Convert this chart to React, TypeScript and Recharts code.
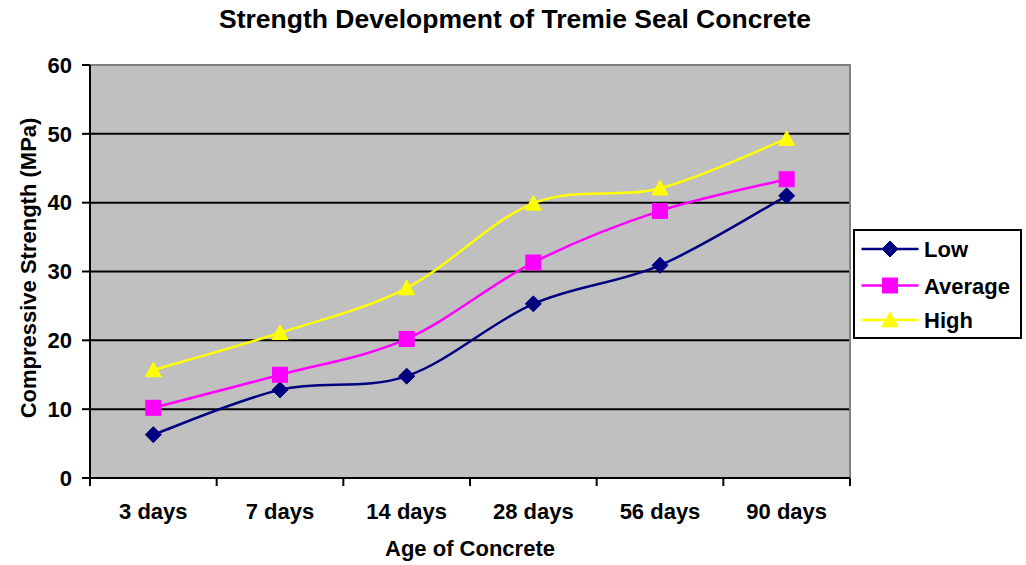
import React from 'react';
import { LineChart, Line, XAxis, YAxis, CartesianGrid, Legend } from 'recharts';

const categories = ['3 days', '7 days', '14 days', '28 days', '56 days', '90 days'];
const lowValues = [6.3, 12.8, 14.8, 25.3, 30.9, 41.0];
const averageValues = [10.2, 15.0, 20.2, 31.3, 38.8, 43.4];
const highValues = [15.7, 21.1, 27.6, 39.9, 42.1, 49.3];
const yTicks = [0, 10, 20, 30, 40, 50, 60];
const gridValues = [10, 20, 30, 40, 50];

const seriesList = [
  { key: 'low', name: 'Low', color: '#000080', shape: 'diamond' },
  { key: 'average', name: 'Average', color: '#FF00FF', shape: 'square' },
  { key: 'high', name: 'High', color: '#FFFF00', shape: 'triangle' },
];

const data = categories.map((age, i) => ({
  age,
  low: lowValues[i],
  average: averageValues[i],
  high: highValues[i],
}));

const W = 1026;
const H = 565;
const M = { top: 65, right: 176, bottom: 0, left: 0 };
const Y_AXIS_W = 90;
const X_AXIS_H = 87;
const PLOT_X = M.left + Y_AXIS_W;
const PLOT_W = W - M.right - PLOT_X;
const PLOT_Y = M.top;
const PLOT_H = H - M.top - M.bottom - X_AXIS_H;
const BW = PLOT_W / categories.length;
const FONT = '"Liberation Sans", Arial, sans-serif';
const FS = 22;

function excelSmooth(context: any) {
  let pts: [number, number][] = [];
  return {
    areaStart() {},
    areaEnd() {},
    lineStart() {
      pts = [];
    },
    lineEnd() {
      const n = pts.length;
      if (n === 0) return;
      context.moveTo(pts[0][0], pts[0][1]);
      for (let i = 0; i < n - 1; i++) {
        const p0 = pts[i - 1] || pts[i];
        const p1 = pts[i];
        const p2 = pts[i + 1];
        const p3 = pts[i + 2] || pts[i + 1];
        context.bezierCurveTo(
          p1[0] + (p2[0] - p0[0]) / 6,
          p1[1] + (p2[1] - p0[1]) / 6,
          p2[0] - (p3[0] - p1[0]) / 6,
          p2[1] - (p3[1] - p1[1]) / 6,
          p2[0],
          p2[1]
        );
      }
    },
    point(x: number, y: number) {
      pts.push([+x, +y]);
    },
  };
}

function Marker({ shape, cx, cy, color }: any) {
  if (cx == null || cy == null) return null;
  if (shape === 'diamond') {
    const r = 8;
    return <polygon points={`${cx},${cy - r} ${cx + r},${cy} ${cx},${cy + r} ${cx - r},${cy}`} fill={color} stroke={color} strokeWidth={1} />;
  }
  if (shape === 'square') {
    const s = 7.5;
    return <rect x={cx - s} y={cy - s} width={s * 2} height={s * 2} fill={color} stroke={color} strokeWidth={1} />;
  }
  const r = 8;
  return <polygon points={`${cx},${cy - r} ${cx + r},${cy + r * 0.85} ${cx - r},${cy + r * 0.85}`} fill={color} stroke={color} strokeWidth={1} />;
}

function XTick(props: any) {
  const { x, y, payload, index } = props;
  const axisY = y - 2;
  return (
    <g>
      <line x1={x - BW / 2} x2={x - BW / 2} y1={axisY} y2={axisY + 8} stroke="#000" strokeWidth={2} />
      {index === categories.length - 1 && (
        <line x1={x + BW / 2} x2={x + BW / 2} y1={axisY} y2={axisY + 8} stroke="#000" strokeWidth={2} />
      )}
      <text x={x} y={axisY + 41} textAnchor="middle" fontFamily={FONT} fontWeight="bold" fontSize={FS} fill="#000">
        {payload.value}
      </text>
    </g>
  );
}

function LegendBox() {
  const rows = [20, 56.5, 91];
  return (
    <svg width={169} height={110} style={{ display: 'block' }}>
      <rect x={1} y={1} width={167} height={108} fill="#fff" stroke="#000" strokeWidth={2} />
      {seriesList.map((s, i) => (
        <g key={s.key}>
          <line x1={8.5} x2={65.5} y1={rows[i]} y2={rows[i]} stroke={s.color} strokeWidth={2.5} />
          <Marker shape={s.shape} cx={37} cy={rows[i]} color={s.color} />
          <text x={71} y={rows[i] + 8} fontFamily={FONT} fontWeight="bold" fontSize={FS} fill="#000">
            {s.name}
          </text>
        </g>
      ))}
    </svg>
  );
}

export default function App() {
  return (
    <div style={{ position: 'absolute', left: 0, top: 0, width: W, height: H, background: '#fff' }}>
      <LineChart width={W} height={H} data={data} margin={M}>
        <CartesianGrid
          vertical={false}
          horizontalValues={gridValues}
          stroke="#000"
          strokeWidth={2}
          fill="#C0C0C0"
          fillOpacity={1}
        />
        <rect x={PLOT_X} y={PLOT_Y} width={PLOT_W} height={PLOT_H} fill="none" stroke="#808080" strokeWidth={2} />
        <XAxis
          dataKey="age"
          height={X_AXIS_H}
          padding={{ left: BW / 2, right: BW / 2 }}
          tickLine={false}
          tickSize={0}
          tickMargin={2}
          interval={0}
          axisLine={{ stroke: '#000', strokeWidth: 2 }}
          tick={<XTick />}
          label={{
            value: 'Age of Concrete',
            position: 'insideBottom',
            offset: 9,
            style: { fontFamily: FONT, fontWeight: 'bold', fontSize: FS, fill: '#000' },
          }}
        />
        <YAxis
          width={Y_AXIS_W}
          domain={[0, 60]}
          ticks={yTicks}
          interval={0}
          tickSize={8}
          tickMargin={10}
          axisLine={{ stroke: '#000', strokeWidth: 2 }}
          tickLine={{ stroke: '#000', strokeWidth: 2 }}
          tick={{ fontFamily: FONT, fontWeight: 'bold', fontSize: FS, fill: '#000' }}
        />
        {seriesList.map((s) => (
          <Line
            key={s.key}
            dataKey={s.key}
            name={s.name}
            type={excelSmooth as any}
            stroke={s.color}
            strokeWidth={2.5}
            isAnimationActive={false}
            dot={(p: any) => <Marker key={`${s.key}-${p.index}`} shape={s.shape} cx={p.cx} cy={p.cy} color={s.color} />}
            activeDot={false}
          />
        ))}
        <Legend
          layout="horizontal"
          verticalAlign="middle"
          align="center"
          content={() => <LegendBox />}
          wrapperStyle={{ position: 'absolute', left: 853, top: 229, width: 169, height: 110, margin: 0 }}
        />
        <text x={515} y={28} textAnchor="middle" fontFamily={FONT} fontWeight="bold" fontSize={26.5} fill="#000">
          Strength Development of Tremie Seal Concrete
        </text>
        <text
          x={0}
          y={0}
          transform="translate(36, 268) rotate(-90)"
          textAnchor="middle"
          fontFamily={FONT}
          fontWeight="bold"
          fontSize={FS}
          fill="#000"
        >
          Compressive Strength (MPa)
        </text>
      </LineChart>
    </div>
  );
}
